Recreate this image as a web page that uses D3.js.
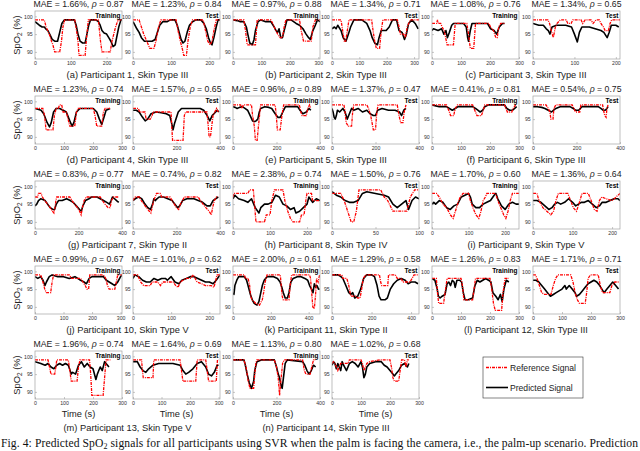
<!DOCTYPE html>
<html><head><meta charset="utf-8">
<script src="https://cdn.jsdelivr.net/npm/d3@7"></script>
<style>body{margin:0;background:#fff;overflow:hidden}</style>
</head><body><script>
// ---------- DATA ----------
const participants = [1,2,3,4,5,6,7,8,9,10,11,12,13,14];
const letters = ["a","b","c","d","e","f","g","h","i","j","k","l","m","n"];
const skinTypes = ["III","III","III","III","III","III","II","IV","V","V","II","III","V","III"];
const maeTrain = ["1.66","0.97","1.08","1.23","0.96","0.41","0.83","2.38","1.70","0.99","2.00","1.26","1.96","1.13"];
const rhoTrain = ["0.87","0.88","0.76","0.74","0.89","0.81","0.77","0.74","0.60","0.67","0.61","0.83","0.74","0.80"];
const maeTest  = ["1.23","1.34","1.34","1.57","1.37","0.54","0.74","1.50","1.36","1.01","1.29","1.71","1.64","1.02"];
const rhoTest  = ["0.84","0.71","0.65","0.65","0.47","0.75","0.82","0.76","0.64","0.62","0.58","0.71","0.69","0.68"];
const xMaxTrain = [243,306,300,300,400,300,400,235,238,305,460,300,300,400];
const xMaxTest  = [228,318,210,400,400,400,400,100,220,228,440,300,305,300];
const xStepTrain = [100,100,100,100,200,100,200,100,100,100,200,100,100,200];
const xStepTest  = [100,100,100,200,200,200,200,50,100,100,200,100,100,100];
const yTicks = [90,95,100];

const p1TrainRef = [[0,99],[26,99],[31,97],[40,95],[46,93],[50,92],[55,90],[69,90],[74,93],[78,97],[83,99],[111,99],[116,96],[120,93],[123,89],[140,89],[144,94],[149,99],[177,99],[180,96],[183,93],[187,90],[210,90],[215,93],[225,97],[232,99],[243,99]];
const p1TrainPred = [[0,98.5],[6,98],[12,97.5],[20,97],[26,97],[30,96.5],[36,96],[42,94.8],[48,93.5],[55,93],[63,93],[69,95.5],[75,98],[82,99],[110,99],[115,97.5],[120,95],[126,93],[133,92.5],[140,92.5],[145,95],[150,97.5],[155,99],[170,99],[177,98.5],[182,97.5],[187,96],[193,95.3],[200,95],[206,94],[212,93],[218,91.5],[224,92],[228,94],[234,97],[240,99],[243,99]];
const p1TestRef = [[0,99],[16,99],[22,97],[28,95],[36,93],[44,91],[55,91],[60,93],[67,97],[73,99],[113,99],[118,96],[124,93],[129,91],[133,89],[140,89],[144,93],[150,97],[156,99],[184,99],[190,96],[196,93],[202,92],[207,93],[212,96],[218,99],[228,99]];
const p1TestPred = [[0,98.5],[5,97.5],[10,96.5],[16,95.5],[22,94],[30,93],[40,93],[50,93],[58,93.5],[64,95.5],[70,97.5],[78,98.5],[90,98.5],[98,99],[110,99],[116,97.5],[121,95.5],[126,93.5],[131,92.5],[136,93],[142,95.5],[148,97.5],[156,98.5],[165,99],[178,99],[186,98],[192,96.5],[198,94],[203,92.5],[207,92],[212,94],[218,97],[223,99],[228,99]];
const p2TrainRef = [[0,99],[38,99],[44,96],[50,92],[79,92],[85,99],[133,99],[140,98],[145,97],[151,96],[157,95],[166,94],[174,94],[180,97],[186,99],[234,99],[240,96],[248,93],[275,93],[281,97],[290,99],[306,99]];
const p2TrainPred = [[0,99],[15,98.8],[26,98.5],[38,98.5],[47,97],[52,95],[59,92.5],[68,92],[74,93.5],[79,96],[88,98.5],[98,99],[115,98.5],[133,98.5],[145,97],[151,96],[157,95.5],[162,96.5],[168,94],[174,94],[180,96],[190,99],[204,99],[222,98],[234,97.5],[246,96.5],[257,95],[266,94],[272,93.5],[281,96],[287,97],[297,99],[306,98.5]];
const p2TestRef = [[0,99],[33,99],[39,96],[45,93],[50,93],[56,96],[62,99],[145,99],[150,96],[156,93],[162,91],[174,91],[180,96],[186,99],[239,99],[245,97],[250,95],[262,95],[268,94],[275,97],[286,99],[318,99]];
const p2TestPred = [[0,96.5],[9,97],[15,96.5],[21,97.5],[33,96],[41,94],[51,93],[60,95],[68,97],[80,99],[109,99],[127,98],[139,96],[147,94],[156,92.5],[166,92],[172,94],[180,96],[198,96],[209,97],[221,99],[236,99],[245,96],[256,95.5],[265,93.5],[272,95],[280,98],[292,99],[304,98],[315,96.5]];
const p3TrainRef = [[0,98],[16,98],[19,99],[22,98],[30,98],[35,97],[42,96],[47,94],[52,92],[74,92],[80,98],[120,98],[126,95],[132,91],[144,91],[150,98],[196,98],[202,97],[212,96],[220,94],[225,94],[230,97],[237,98],[250,98]];
const p3TrainPred = [[0,96],[5,96.5],[12,96.3],[21,96],[33,96.5],[41,95],[48,96],[53,94],[60,95.5],[68,97.5],[74,98],[109,98],[118,97],[123,94],[126,93],[132,96],[138,98],[191,98],[202,96.5],[214,96],[223,95],[232,97],[243,98],[250,98]];
const p3TestRef = [[0,99],[36,99],[40,98],[44,96],[49,94],[54,97],[58,98],[66,99],[80,99],[84,98],[92,98],[96,99],[116,99],[120,98],[126,99],[140,99],[145,98],[152,99],[160,99],[164,98],[170,97],[174,96],[182,96],[186,98],[190,99],[210,99]];
const p3TestPred = [[0,98],[14,97.5],[25,97.5],[32,96.5],[37,96],[41,95],[46,97],[57,97.5],[79,97.5],[93,97],[100,95],[107,92.8],[112,95.5],[118,97],[136,97],[150,96.5],[164,96],[171,95.5],[179,94],[184,95.5],[189,97.5],[200,97.5],[207,97]];
const p4TrainRef = [[0,98],[27,98],[33,96],[38,92],[62,92],[67,96],[73,98],[80,98],[85,99],[92,99],[97,97],[108,97],[114,95],[120,93],[137,93],[143,97],[149,98],[201,98],[207,96],[213,93],[230,93],[236,97],[242,98],[259,98]];
const p4TrainPred = [[0,98],[10,97.8],[21,97.5],[30,96.5],[42,94],[50,92.8],[56,94],[64,97],[73,98],[85,98],[97,97.5],[108,97],[120,94.5],[128,93],[134,94],[143,97],[155,98],[201,98],[213,97],[222,95],[230,93.5],[236,95],[245,97.5],[259,98]];
const p4TestRef = [[0,98],[25,98],[30,97],[55,97],[60,95],[80,95],[88,96],[92,97],[175,97],[178,93],[182,89],[230,89],[236,96],[242,97],[340,97],[346,93],[350,90],[356,90],[362,93],[368,96],[376,97],[384,98],[392,97]];
const p4TestPred = [[0,97.5],[15,97.5],[28,97],[44,95.5],[56,94.5],[67,95],[83,96.5],[106,97],[130,96.8],[153,96.5],[169,96],[177,94],[184,92],[192,94],[208,97],[223,98],[309,98],[325,97.5],[341,96],[353,94.5],[364,96],[380,97],[387,97.5],[395,97]];
const p5TrainRef = [[0,99],[35,99],[40,98],[48,99],[85,99],[90,96],[98,93],[103,89],[111,89],[117,93],[127,99],[194,99],[199,96],[204,92],[217,92],[225,96],[233,99],[305,99],[312,97],[318,96],[337,96],[344,98],[352,99],[358,98]];
const p5TrainPred = [[0,98.5],[10,98.3],[19,98],[30,98.3],[43,98.5],[55,98],[67,97.5],[79,96],[90,94.5],[100,94.3],[106,94.5],[114,95],[121,97],[127,98],[146,98.5],[165,98.3],[178,98],[194,96.5],[206,95.5],[217,95.5],[229,97],[241,98.5],[270,98.5],[297,98.5],[308,97.5],[321,96.5],[337,97],[349,98],[358,97.5]];
const p5TestRef = [[0,99],[55,99],[60,97],[65,94],[75,93],[90,93],[95,97],[100,99],[160,99],[168,98],[178,96],[190,92],[200,92],[206,97],[212,99],[300,99],[308,96],[316,94],[326,94],[332,97],[340,99]];
const p5TestPred = [[0,98],[5,97],[10,95.5],[15,95],[20,96],[25,97.5],[35,97],[50,98],[60,97],[70,95],[80,96.5],[90,98],[100,97.5],[120,98],[140,97],[160,97.5],[175,96.5],[190,96],[200,96],[210,97.5],[230,98],[260,97.5],[290,97.5],[310,97],[320,96],[330,97.5],[340,98]];
const p6TrainRef = [[0,99],[50,99],[55,98],[60,97],[64,96],[75,96],[80,98],[88,99],[140,99],[145,98],[150,97],[155,96],[170,96],[175,97],[182,99],[250,99],[255,98],[260,97],[275,97],[280,98],[288,99],[292,99]];
const p6TrainPred = [[0,99],[10,98.8],[25,98.5],[50,98.5],[60,98],[70,97.5],[80,98],[90,98.5],[140,98.5],[150,98],[158,97.5],[166,97],[175,97.5],[182,98.5],[195,99],[250,99],[258,98],[268,97.5],[278,97.5],[285,98],[292,98.5]];
const p6TestRef = [[0,99],[60,99],[70,98],[78,97],[82,95],[92,95],[96,98],[105,99],[180,99],[188,98],[195,97],[215,97],[220,99],[320,99],[326,97],[330,96],[336,95.5],[340,98],[345,99]];
const p6TestPred = [[0,98.5],[20,98.5],[40,98.3],[55,98],[70,97.5],[85,97],[95,97.5],[105,98],[125,98.5],[170,98.5],[185,98],[195,97.5],[210,97.5],[225,98.5],[300,98.5],[312,98],[322,97.5],[332,97.5],[340,98],[345,98.5]];
const p7TrainRef = [[0,97],[12,97],[16,98],[28,98],[34,97],[45,96],[58,95],[70,94],[80,93],[87,92.5],[92,94],[96,96],[100,97],[160,97],[170,96],[182,95],[195,94],[205,93],[212,92],[218,94],[226,96],[235,97],[300,97],[310,96],[322,95],[336,94],[345,94],[352,96],[360,97],[385,97]];
const p7TrainPred = [[0,94.5],[8,95],[16,96],[26,96.5],[36,96.3],[46,96],[58,95],[70,94],[82,93.5],[90,93.5],[98,95],[108,96],[125,96],[145,96.5],[162,96],[175,95.5],[190,94.5],[205,93.5],[213,93],[220,94.5],[232,96],[248,96.5],[260,97],[285,97],[300,96.5],[315,96],[330,95.5],[342,95],[350,96],[356,97],[366,96.5],[375,96],[385,95.5]];
const p7TestRef = [[0,96],[8,97],[30,97],[38,96],[50,95],[62,94],[75,93],[82,92.5],[88,94],[95,96],[102,97],[108,98],[125,98],[132,97],[170,97],[180,96],[190,95],[200,94],[210,93.5],[218,95],[228,96],[236,97],[300,97],[310,96],[322,95],[335,94],[350,93],[360,92],[366,94],[374,96],[384,97],[392,97]];
const p7TestPred = [[0,96],[10,96.5],[25,97],[40,96.5],[55,95],[68,94],[80,93.5],[90,95],[96,96.5],[103,96],[110,96.5],[120,97],[140,97],[160,96.5],[180,96],[192,95],[205,94],[215,94.5],[228,96],[248,96.5],[280,96.5],[300,96],[320,95.5],[340,94.5],[355,94.5],[368,96],[380,96.5],[392,97]];
const p8TrainRef = [[0,97],[2,98],[40,98],[45,99],[55,99],[58,95],[62,90],[85,90],[90,92],[100,92],[105,96],[112,99],[135,99],[140,96],[148,93],[155,91],[162,90],[180,90],[185,92],[192,92],[198,97],[200,98],[212,98],[215,96],[235,96]];
const p8TrainPred = [[0,96.5],[5,97.5],[15,96.5],[30,96],[40,95.5],[50,96.5],[60,94],[70,92.5],[75,94],[85,95],[95,95],[105,95.5],[115,97.5],[125,97],[135,95],[145,94.5],[155,93.5],[165,94],[170,92.5],[180,93],[190,94],[200,95],[205,97],[215,95.5],[225,96.5],[235,96]];
const p8TestRef = [[0,98],[10,98],[14,96],[18,93],[22,90],[25,90],[28,93],[31,99],[56,99],[60,97],[64,96],[70,93],[86,93],[90,97],[95,99],[100,99]];
const p8TestPred = [[0,98.5],[5,97.5],[10,97],[15,96],[20,95.5],[25,95.5],[30,96],[35,98],[40,98.5],[50,98],[60,97.5],[65,97],[70,95],[75,94],[80,95],[85,96],[88,93.5],[92,96],[96,97],[100,96.5]];
const p9TrainRef = [[0,98],[12,98],[20,97],[30,95],[40,94],[50,92],[58,91],[64,93],[70,95],[77,97],[85,98],[100,98],[105,96],[112,94],[120,92],[128,91],[134,93],[140,96],[146,97],[150,98],[174,98],[180,96],[188,94],[196,92],[202,91],[208,93],[214,96],[220,98],[238,98]];
const p9TrainPred = [[0,95],[5,95.5],[10,95],[15,95.5],[20,96],[30,95.5],[40,94],[50,93.5],[60,94.5],[70,95],[80,97],[90,97.5],[100,98],[105,97],[110,95],[120,94],[130,94],[140,95],[150,95.5],[160,96],[170,97.5],[175,98],[180,96.5],[190,94.5],[200,93.5],[210,95],[220,95.5],[230,95],[238,95]];
const p9TestRef = [[0,98],[10,98],[15,96],[25,94],[35,93],[45,92],[52,93],[58,96],[64,98],[88,98],[95,96],[102,94],[110,93],[116,95],[124,98],[140,98],[147,96],[155,93.5],[162,93],[168,96],[174,97],[185,96.5],[200,96],[210,97],[220,98]];
const p9TestPred = [[0,96],[10,96],[20,95.5],[30,94.5],[40,93.5],[48,94],[55,95],[62,95.5],[70,95],[80,95.5],[90,96.5],[100,95.5],[108,94.5],[115,95],[122,95.5],[130,95.5],[140,96],[150,95],[160,94],[168,94.5],[175,95.5],[185,95.5],[195,96],[205,96.5],[215,96.5],[220,96]];
const p10TrainRef = [[0,99],[20,99],[28,97],[34,95],[40,94],[55,94],[60,97],[65,99],[120,99],[128,98],[160,98],[168,97],[176,96],[182,95],[188,95],[192,99],[240,99],[248,98],[254,96],[260,95],[280,95],[285,97],[290,99],[305,99]];
const p10TrainPred = [[0,98.5],[10,98],[20,98.5],[28,97.5],[35,96],[40,97],[50,98.5],[60,99],[80,98.5],[100,98.5],[120,98],[140,98.5],[160,97.5],[172,97],[180,96.5],[190,98],[200,98.5],[240,98.5],[250,97.5],[260,97],[270,96.5],[280,96],[290,97],[300,98.5],[305,99]];
const p10TestRef = [[0,99],[12,99],[20,97],[28,96],[45,96],[50,97],[65,97],[72,96],[78,97],[105,97],[112,96],[118,95.5],[124,97],[138,98],[150,98],[158,99],[168,97],[180,96.5],[190,96],[205,96],[212,95.5],[216,97],[220,99],[228,99]];
const p10TestPred = [[0,98],[5,99],[15,98.5],[25,97.5],[35,97],[45,97],[55,98],[65,97.5],[75,98],[85,98],[90,97.5],[100,98.5],[110,97],[120,96.5],[128,97.5],[140,98],[150,98.5],[160,98.5],[170,98],[180,97.5],[190,97],[200,97],[210,96.5],[218,97.5],[228,99]];
const p11TrainRef = [[0,99],[60,99],[66,98],[80,98],[88,96],[94,93],[100,92],[120,91],[140,90.5],[155,92],[162,94],[170,97],[180,99],[250,99],[255,96],[260,93],[266,92],[296,92],[302,96],[310,99],[405,99],[410,98],[416,94],[422,90],[430,89.5],[436,93],[442,98],[450,97],[458,99]];
const p11TrainPred = [[0,94],[5,93.5],[10,96],[20,97.5],[30,98.5],[60,98.5],[72,97.5],[82,95.5],[92,93.5],[102,92],[112,91],[127,90.5],[137,91.5],[147,94],[155,96],[165,97.5],[180,98.5],[215,98.5],[235,98],[249,97],[258,95.5],[266,94],[276,92.5],[288,92.5],[296,94],[306,97],[318,98],[340,98.5],[360,98.5],[380,98],[395,97.5],[405,96],[415,95],[423,94],[430,96.5],[437,95.5],[444,96],[452,95],[458,95]];
const p11TestRef = [[0,99],[50,99],[55,98],[75,98],[85,96],[95,93],[120,93],[130,92.5],[142,92.5],[150,95],[158,98],[170,99],[240,99],[246,97],[252,96],[282,96],[286,99],[320,99],[330,98],[350,98],[358,97],[380,97],[395,97],[405,98],[415,99],[435,99]];
const p11TestPred = [[0,99],[30,99],[45,98.5],[55,98],[70,96],[85,94],[95,93.5],[105,94],[115,92.5],[130,93],[145,95],[160,98],[175,99],[200,99],[215,98.5],[228,96],[238,93],[248,92],[268,92],[280,92.5],[295,95],[312,96.5],[330,97.5],[350,98],[370,97.5],[385,96.5],[400,97],[420,97],[435,96.5]];
const p12TrainRef = [[0,98],[15,98],[19,94],[23,91],[40,91],[45,94],[52,98],[100,98],[105,96],[110,92],[140,92],[145,95],[150,98],[200,98],[206,95],[212,91],[218,89],[240,89],[245,94],[252,98],[265,98]];
const p12TrainPred = [[0,98],[10,97.5],[18,95],[22,93],[28,92.5],[35,93],[45,93.5],[52,96.5],[58,97],[64,96],[70,97.5],[76,97],[80,95.5],[86,97.5],[95,97.5],[102,97],[108,94],[114,92],[125,92],[140,92.5],[148,96],[156,97.5],[165,97],[175,97.5],[185,98],[195,97.5],[203,97],[210,94],[220,93],[228,92],[236,93.5],[242,91.5],[248,95],[256,97.5],[265,97]];
const p12TestRef = [[0,99],[8,99],[14,98],[22,96],[30,94],[40,93.5],[62,93.5],[70,96],[78,98],[86,99],[130,99],[138,97],[145,94],[153,92],[160,91],[180,91],[185,94],[190,98],[198,99],[225,99],[232,96],[240,94],[265,94],[272,96],[282,97],[295,97]];
const p12TestPred = [[0,97.5],[10,97.5],[20,97],[30,96],[40,95],[50,94],[60,93],[70,93.5],[80,94],[90,94.5],[100,95],[110,96],[115,95],[125,96],[135,95],[145,94],[150,93],[160,93.5],[170,94.5],[180,95.5],[190,96.5],[200,97],[210,97.5],[220,97],[230,96],[245,94],[255,95],[265,96],[275,97],[285,96],[295,95]];
const p13TrainRef = [[0,99],[45,99],[50,97],[55,95],[68,95],[72,97],[75,99],[115,99],[120,96],[125,93],[145,93],[150,97],[155,99],[188,99],[192,95],[196,89],[235,89],[240,94],[245,99],[260,99]];
const p13TrainPred = [[0,98.5],[20,98],[35,97.5],[45,98],[55,97],[65,96.5],[75,97.5],[85,98],[95,97.5],[105,98],[115,97.5],[125,95],[130,95.5],[140,95],[150,97.5],[160,98.5],[170,97],[180,98],[190,97],[200,96.5],[210,93.5],[215,95],[220,96],[225,97],[232,96],[240,98.5],[250,97.5],[255,97]];
const p13TestRef = [[0,99],[30,99],[33,96],[36,94],[70,94],[73,99],[165,99],[170,96],[175,93],[220,93],[225,99],[255,99],[260,96],[265,93],[292,93],[296,99],[300,99]];
const p13TestPred = [[0,98.5],[15,98.5],[25,97],[35,96],[45,95.5],[55,96.5],[70,97.5],[90,98],[110,98],[140,98],[165,97.5],[175,96],[185,95],[195,95.5],[210,96.5],[225,98],[240,98.5],[255,97],[265,95],[275,94.5],[285,95.5],[295,97.5],[300,97.5]];
const p14TrainRef = [[0,99],[50,99],[60,97],[70,93],[78,91],[95,91],[100,95],[105,98],[110,99],[190,99],[200,97],[208,94],[214,89],[220,93],[228,98],[235,99],[320,99],[328,96],[335,95],[355,95],[362,97],[370,99],[380,99]];
const p14TrainPred = [[0,99],[50,99],[55,98],[65,95],[75,92.5],[85,91],[95,93],[100,96],[110,98.5],[130,99],[190,99],[200,97],[208,95],[214,94],[220,92],[226,91],[232,94],[240,98],[250,99],[320,98.5],[330,97.5],[340,96],[350,95],[360,96],[370,97.5],[380,97]];
const p14TestRef = [[0,98],[5,98.5],[10,98],[15,97],[20,96],[25,97],[30,98],[55,98],[60,99],[100,99],[105,98],[110,96],[115,97],[120,98],[130,98.5],[165,99],[200,99],[205,97],[210,94],[215,93],[230,93],[235,96],[240,99],[250,99],[255,97],[260,99],[265,99]];
const p14TestPred = [[0,97.5],[5,98.5],[10,98],[15,96.5],[20,98],[25,97],[30,96],[35,98.5],[40,97.5],[50,96],[60,98],[70,98.5],[80,98],[90,97],[100,98.5],[105,97],[110,94],[115,95],[120,97],[130,98],[150,98.5],[170,98.5],[180,97.5],[190,97],[200,96],[210,95],[215,94.5],[220,95],[230,96],[240,97.5],[250,98],[260,97],[265,98]];

const trainRef = [p1TrainRef,p2TrainRef,p3TrainRef,p4TrainRef,p5TrainRef,p6TrainRef,p7TrainRef,p8TrainRef,p9TrainRef,p10TrainRef,p11TrainRef,p12TrainRef,p13TrainRef,p14TrainRef];
const trainPred = [p1TrainPred,p2TrainPred,p3TrainPred,p4TrainPred,p5TrainPred,p6TrainPred,p7TrainPred,p8TrainPred,p9TrainPred,p10TrainPred,p11TrainPred,p12TrainPred,p13TrainPred,p14TrainPred];
const testRef = [p1TestRef,p2TestRef,p3TestRef,p4TestRef,p5TestRef,p6TestRef,p7TestRef,p8TestRef,p9TestRef,p10TestRef,p11TestRef,p12TestRef,p13TestRef,p14TestRef];
const testPred = [p1TestPred,p2TestPred,p3TestPred,p4TestPred,p5TestPred,p6TestPred,p7TestPred,p8TestPred,p9TestPred,p10TestPred,p11TestPred,p12TestPred,p13TestPred,p14TestPred];

const legendLabels = ["Reference Signal","Predicted Signal"];
const figCaption = "signals for all participants using SVR when the palm is facing the camera, i.e., the palm-up scenario. Prediction";

// ---------- LAYOUT ----------
const W = 640, H = 451;
const rowTop = [11, 96, 181, 266, 351];
const PH = 48, PW = 87;
const colX = [[35,133],[233,332],[432,533]];
const yDomain = [88, 101.5];
const FONT = '"Liberation Sans", Arial, sans-serif';
const SERIF = '"Liberation Serif", "Times New Roman", serif';

const svg = d3.select("body").append("svg").attr("width", W).attr("height", H);
const defs = svg.append("defs");

const line = (x, y) => d3.line().x(d => x(d[0])).y(d => y(d[1]));

participants.forEach((p, i) => {
  const row = Math.floor(i / 3), col = i % 3;
  const top = rowTop[row];
  [0, 1].forEach(k => {
    const left = colX[col][k];
    const xmax = k ? xMaxTest[i] : xMaxTrain[i];
    const step = k ? xStepTest[i] : xStepTrain[i];
    const x = d3.scaleLinear().domain([0, xmax]).range([left, left + PW]);
    const y = d3.scaleLinear().domain(yDomain).range([top + PH, top]);
    const g = svg.append("g");
    const cid = `clip${i}_${k}`;
    defs.append("clipPath").attr("id", cid).append("rect")
      .attr("x", left).attr("y", top).attr("width", PW).attr("height", PH);

    const gx = g.append("g").attr("transform", `translate(0,${top + PH})`)
      .call(d3.axisBottom(x).tickValues(d3.range(0, xmax + 0.01, step)).tickSize(-2).tickSizeOuter(0).tickPadding(2.3));
    const gy = g.append("g").attr("transform", `translate(${left},0)`)
      .call(d3.axisLeft(y).tickValues(yTicks).tickSize(-2).tickSizeOuter(0).tickPadding(2.3));
    [gx, gy].forEach(a => {
      a.attr("font-family", FONT).attr("font-size", 5.2);
      a.select(".domain").remove();
      a.selectAll("line").attr("stroke", "#8c8c8c").attr("stroke-width", 0.5);
      a.selectAll("text").attr("fill", "#333");
    });

    const plot = g.append("g").attr("clip-path", `url(#${cid})`);
    const ref = k ? testRef[i] : trainRef[i];
    const pred = k ? testPred[i] : trainPred[i];
    plot.append("path").datum(pred).attr("d", line(x, y))
      .attr("fill", "none").attr("stroke", "#000").attr("stroke-width", 1.6).attr("stroke-linejoin", "round");
    plot.append("path").datum(ref).attr("d", line(x, y))
      .attr("fill", "none").attr("stroke", "#ff0000").attr("stroke-width", 1.3)
      .attr("stroke-dasharray", "3,1,1,1");

    g.append("rect").attr("x", left).attr("y", top).attr("width", PW).attr("height", PH)
      .attr("fill", "none").attr("stroke", "#a3a3a3").attr("stroke-width", 0.7);

    g.append("text").attr("x", left + PW - 1.5).attr("y", top + 6.5)
      .attr("text-anchor", "end").attr("font-family", FONT).attr("font-weight", "bold")
      .attr("font-size", 6.5).attr("fill", "#000").text(k ? "Test" : "Training");

    const t = g.append("text").attr("x", left + PW / 2).attr("y", top - 3.6)
      .attr("text-anchor", "middle").attr("font-family", FONT).attr("font-size", 8.7).attr("fill", "#222");
    t.append("tspan").text(`MAE = ${k ? maeTest[i] : maeTrain[i]}%, `);
    t.append("tspan").attr("font-style", "italic").text("ρ");
    t.append("tspan").text(` = ${k ? rhoTest[i] : rhoTrain[i]}`);

    if (row === 4) {
      g.append("text").attr("x", left + PW / 2).attr("y", top + PH + 18)
        .attr("text-anchor", "middle").attr("font-family", FONT).attr("font-size", 9.3)
        .attr("fill", "#222").text("Time (s)");
    }
  });

  if (col === 0) {
    const cy = top + PH / 2;
    const yl = svg.append("text").attr("transform", `translate(20,${cy}) rotate(-90)`)
      .attr("text-anchor", "middle").attr("font-family", FONT).attr("font-size", 9.3).attr("fill", "#222");
    yl.append("tspan").text("SpO");
    yl.append("tspan").attr("font-size", 6.5).attr("dy", 2).text("2");
    yl.append("tspan").attr("dy", -2).text(" (%)");
  }

  const cx = (colX[col][0] + colX[col][1] + PW) / 2;
  const capY = row === 4 ? top + PH + 32 : top + PH + 19.3;
  svg.append("text").attr("x", cx).attr("y", capY).attr("text-anchor", "middle")
    .attr("font-family", FONT).attr("font-size", 9.3).attr("fill", "#222")
    .text(`(${letters[i]}) Participant ${p}, Skin Type ${skinTypes[i]}`);
});

// legend
const lg = svg.append("g");
lg.append("rect").attr("x", 483).attr("y", 357).attr("width", 100).attr("height", 41)
  .attr("fill", "#fff").attr("stroke", "#333").attr("stroke-width", 0.6);
lg.append("line").attr("x1", 486).attr("x2", 508).attr("y1", 367.5).attr("y2", 367.5)
  .attr("stroke", "#ff0000").attr("stroke-width", 1.3).attr("stroke-dasharray", "3,1,1,1");
lg.append("line").attr("x1", 486).attr("x2", 508).attr("y1", 387.5).attr("y2", 387.5)
  .attr("stroke", "#000").attr("stroke-width", 1.6);
legendLabels.forEach((l, j) => {
  lg.append("text").attr("x", 510).attr("y", 370.5 + j * 20).attr("font-family", FONT)
    .attr("font-size", 8.6).attr("fill", "#222").text(l);
});

// figure caption
const fc = svg.append("text").attr("x", 1).attr("y", 447).attr("font-family", SERIF)
  .attr("font-size", 11.6).attr("fill", "#111")
  .attr("textLength", 637).attr("lengthAdjust", "spacing");
fc.append("tspan").text("Fig. 4: Predicted SpO");
fc.append("tspan").attr("font-size", 8).attr("dy", 1.5).text("2");
fc.append("tspan").attr("dy", -1.5).text(" " + figCaption);
</script></body></html>
